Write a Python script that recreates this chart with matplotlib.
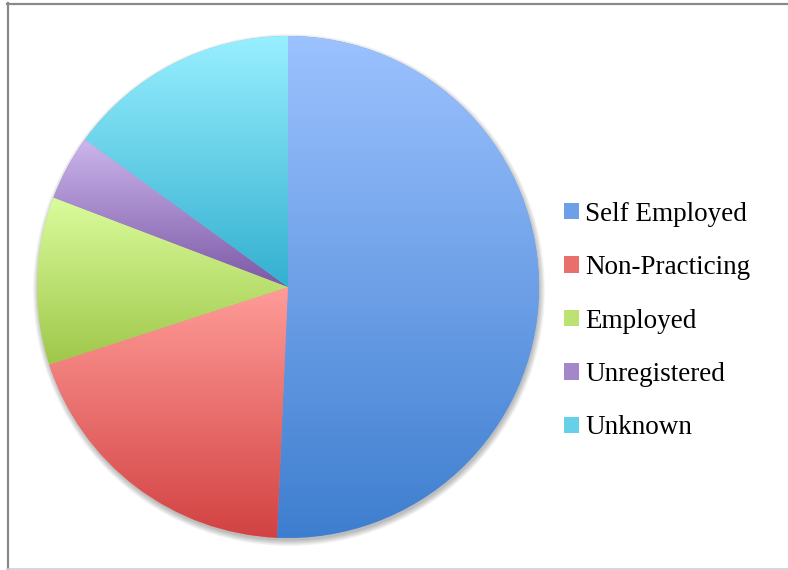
import numpy as np
import matplotlib
matplotlib.use("Agg")
import matplotlib.pyplot as plt
from matplotlib.patches import Circle
from matplotlib.lines import Line2D
from matplotlib.colors import LinearSegmentedColormap

# data
labels = ["Self Employed", "Non-Practicing", "Employed", "Unregistered", "Unknown"]
shares = [50.7, 19.3, 10.8, 4.2, 15.0]

# gradient colours per slice (top, bottom)
top_colors = ["#9cc2ff", "#ff9c98", "#dafc9c", "#cbb6ec", "#98efff"]
bottom_colors = ["#3e7ecf", "#d24242", "#9fc74a", "#7c58a6", "#33b0d0"]

W, H = 788, 570
fig = plt.figure(figsize=(W / 100, H / 100), dpi=100)
ax = fig.add_axes([0, 0, 1, 1])
ax.set_aspect("equal")

cx, cy, R = 288, H - 287, 251

# soft shadow under the pie
for i in range(8):
    ax.add_patch(Circle((cx + 1, cy - 3), R + 5 - i * 0.8, color="black",
                        alpha=0.035, lw=0, zorder=0))

mid_colors = [tuple((np.array(matplotlib.colors.to_rgb(a)) + np.array(matplotlib.colors.to_rgb(b))) / 2)
              for a, b in zip(top_colors, bottom_colors)]

wedges, _ = ax.pie(shares, center=(cx, cy), radius=R, startangle=90,
                   counterclock=False, colors=mid_colors,
                   wedgeprops=dict(linewidth=0), frame=True)

grad = np.linspace(1, 0, 256).reshape(-1, 1)
for w, c0, c1 in zip(wedges, top_colors, bottom_colors):
    v = w.get_path().vertices
    x0, x1 = v[:, 0].min(), v[:, 0].max()
    y0, y1 = v[:, 1].min(), v[:, 1].max()
    cmap = LinearSegmentedColormap.from_list("g", [c1, c0])
    im = ax.imshow(grad, cmap=cmap, extent=(x0, x1, y0, y1), origin="upper",
                   aspect="auto", zorder=2, interpolation="bilinear")
    im.set_clip_path(w)

ax.set_xlim(0, W)
ax.set_ylim(0, H)
ax.axis("off")

leg = ax.legend(wedges, labels, loc="center left",
                bbox_to_anchor=(564 / W, 1 - 321 / H), frameon=False,
                prop={"family": "Liberation Serif", "size": 19.5},
                labelspacing=1.05, handlelength=0.56, handleheight=0.56,
                handletextpad=0.22, borderpad=0, borderaxespad=0)

# chart frame
fig.add_artist(Line2D([7.5 / W, 7.5 / W], [1 - 3 / H, 1 - 569 / H],
                      transform=fig.transFigure, color="#8a8a8a", lw=1.6))
fig.add_artist(Line2D([7 / W, 1], [1 - 3.5 / H, 1 - 3.5 / H],
                      transform=fig.transFigure, color="#8a8a8a", lw=1.6))
fig.add_artist(Line2D([7 / W, 1], [1 - 569 / H, 1 - 569 / H],
                      transform=fig.transFigure, color="#cfcfcf", lw=1.2))

fig.savefig("out.png", dpi=100)
